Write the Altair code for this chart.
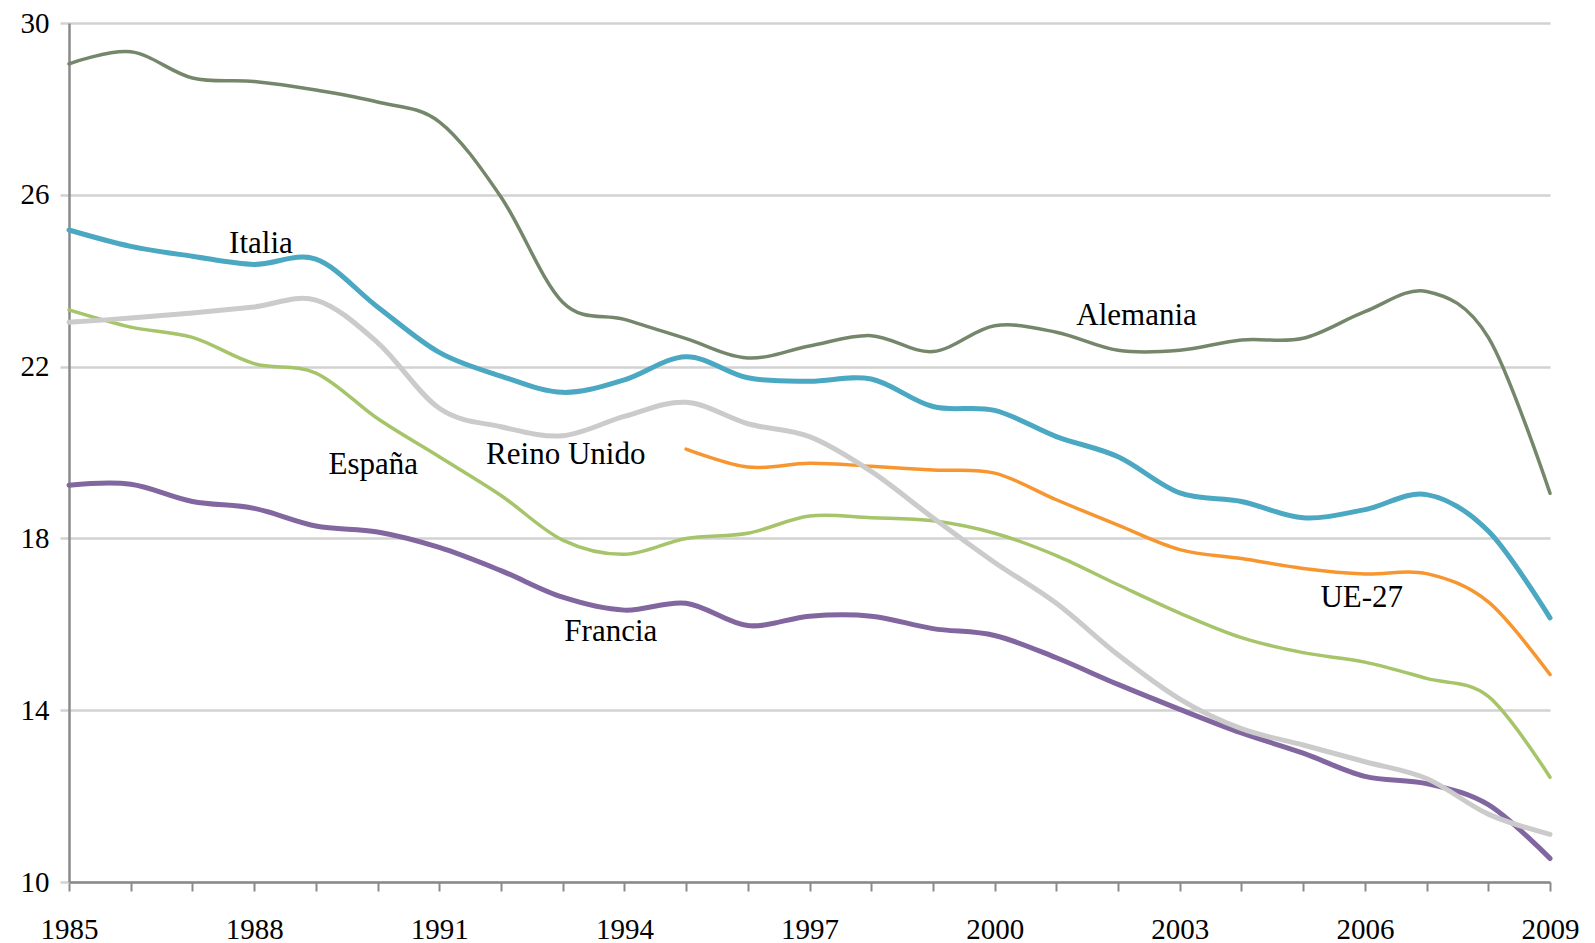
import altair as alt
import pandas as pd

years = list(range(1985, 2010))

alemania = [29.05, 29.33, 28.72, 28.64, 28.44, 28.16, 27.70, 25.95, 23.50, 23.10, 22.65, 22.20,
            22.48, 22.72, 22.35, 22.95, 22.80, 22.38, 22.38, 22.62, 22.66, 23.28, 23.75, 22.68, 19.05]
italia = [25.18, 24.80, 24.57, 24.38, 24.50, 23.39, 22.33, 21.78, 21.40, 21.69, 22.23, 21.74,
          21.66, 21.71, 21.07, 20.98, 20.37, 19.90, 19.06, 18.86, 18.48, 18.67, 19.02, 18.17, 16.15]
ue27_years = list(range(1995, 2010))
ue27 = [20.08, 19.66, 19.75, 19.68, 19.59, 19.52, 18.90, 18.31, 17.74, 17.53, 17.30, 17.17,
        17.18, 16.52, 14.83]
espana = [23.32, 22.92, 22.68, 22.07, 21.85, 20.79, 19.90, 19.00, 17.96, 17.63, 18.00, 18.12,
          18.52, 18.48, 18.41, 18.12, 17.60, 16.92, 16.26, 15.69, 15.34, 15.12, 14.74, 14.32, 12.44]
reino_unido = [23.03, 23.13, 23.25, 23.39, 23.55, 22.56, 21.03, 20.60, 20.39, 20.84, 21.17, 20.67,
               20.37, 19.56, 18.48, 17.44, 16.49, 15.29, 14.26, 13.57, 13.19, 12.80, 12.41, 11.58, 11.11]
francia = [19.24, 19.26, 18.86, 18.70, 18.29, 18.15, 17.79, 17.25, 16.63, 16.33, 16.49, 15.97,
           16.19, 16.19, 15.90, 15.74, 15.22, 14.60, 14.02, 13.47, 13.00, 12.46, 12.29, 11.80, 10.55]

series_names = ["UE-27", "España", "Francia", "Reino Unido", "Italia", "Alemania"]
series_years = [ue27_years, years, years, years, years, years]
series_values = [ue27, espana, francia, reino_unido, italia, alemania]
series_colors = ["#F7962F", "#A6C46A", "#8166A0", "#CBCBCB", "#4BA8C2", "#75876B"]
series_widths = [3.5, 3.5, 5, 5, 5, 3.5]

label_texts = ["Italia", "Alemania", "España", "Reino Unido", "UE-27", "Francia"]
label_x = [1988.11, 2002.30, 1989.93, 1993.05, 2005.95, 1993.78]
label_y = [24.86, 23.17, 19.72, 19.94, 16.62, 15.83]

y_ticks = [10, 14, 18, 22, 26, 30]

FONT = "Liberation Serif"

x_scale = alt.Scale(domain=[1985, 2009], nice=False, zero=False)
y_scale = alt.Scale(domain=[10, 30], nice=False, zero=False)

layers = []
base_df = pd.DataFrame({"year": years, "value": [10] * len(years)})
axis_layer = alt.Chart(base_df).mark_point(opacity=0).encode(
    x=alt.X("year:Q", scale=x_scale,
            axis=alt.Axis(title=None, values=years, format="d",
                          labelExpr="(datum.value - 1985) % 3 == 0 ? datum.label : ''",
                          grid=False, domainColor="#8A8A8A", domainWidth=2.5,
                          tickColor="#8A8A8A", tickWidth=2, tickSize=9,
                          labelFont=FONT, labelFontSize=29, labelColor="#000000",
                          labelPadding=24, labelFlush=False, labelOverlap=False)),
    y=alt.Y("value:Q", scale=y_scale,
            axis=alt.Axis(title=None, values=y_ticks, format="d",
                          grid=True, gridColor="#D2D2D2", gridWidth=2.5,
                          domainColor="#8A8A8A", domainWidth=2.5,
                          tickColor="#D2D2D2", tickWidth=2.5, tickSize=9,
                          labelFont=FONT, labelFontSize=29, labelColor="#000000",
                          labelPadding=11, labelFlush=False, labelOverlap=False)),
)
layers.append(axis_layer)

for name, yrs, vals, col, w in zip(series_names, series_years, series_values,
                                    series_colors, series_widths):
    df = pd.DataFrame({"year": yrs, "value": vals, "serie": name})
    layers.append(
        alt.Chart(df).mark_line(interpolate="cardinal", color=col, strokeWidth=w,
                                strokeCap="round", strokeJoin="round").encode(
            x=alt.X("year:Q", scale=x_scale),
            y=alt.Y("value:Q", scale=y_scale),
        )
    )

lab_df = pd.DataFrame({"text": label_texts, "x": label_x, "y": label_y})
layers.append(
    alt.Chart(lab_df).mark_text(font=FONT, fontSize=31, color="#000000",
                                align="center", baseline="middle").encode(
        x=alt.X("x:Q", scale=x_scale),
        y=alt.Y("y:Q", scale=y_scale),
        text="text:N",
    )
)

chart = alt.layer(*layers).properties(
    width=1481, height=859,
    padding={"left": 61, "top": 15, "right": 30, "bottom": 62},
    autosize=alt.AutoSizeParams(type="none"),
    background="#FFFFFF",
).configure_view(stroke=None)

chart.save("out.html", embed_options={"renderer": "svg", "actions": False})
